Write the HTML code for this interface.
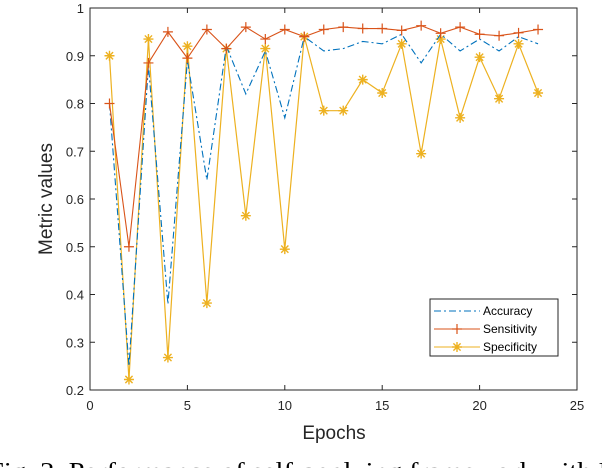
<!DOCTYPE html>
<html><head><meta charset="utf-8"><style>
html,body{margin:0;padding:0;background:#fff;overflow:hidden}
svg{display:block;font-family:"Liberation Sans",sans-serif}
</style></head><body>
<svg id="chart" width="602" height="468" viewBox="0 0 602 468" xmlns="http://www.w3.org/2000/svg">
<g id="grid"></g>
<g id="series"></g>
<g id="axes"></g>
<text x="334" y="439" font-size="19" text-anchor="middle" fill="#262626">Epochs</text>
<text transform="translate(52,199) rotate(-90)" font-size="19" text-anchor="middle" fill="#262626">Metric values</text>
<text x="-12" y="479" font-size="24" font-family="Liberation Serif,serif" textLength="628" lengthAdjust="spacingAndGlyphs" fill="#000">Fig. 2.  Performance of self-applying framework with L</text>
<g id="legend"></g>
</svg>
<script>
const epochs=[1,2,3,4,5,6,7,8,9,10,11,12,13,14,15,16,17,18,19,20,21,22,23];
const accuracy=[0.80,0.25,0.88,0.38,0.89,0.64,0.92,0.82,0.91,0.77,0.94,0.91,0.915,0.93,0.925,0.945,0.885,0.945,0.91,0.935,0.91,0.94,0.925];
const sensitivity=[0.80,0.50,0.885,0.95,0.895,0.955,0.915,0.96,0.935,0.955,0.94,0.955,0.96,0.957,0.957,0.953,0.963,0.947,0.96,0.945,0.942,0.948,0.955];
const specificity=[0.90,0.222,0.935,0.268,0.92,0.382,0.915,0.565,0.915,0.495,0.94,0.785,0.785,0.85,0.822,0.925,0.695,0.935,0.77,0.897,0.81,0.925,0.822];
const xTicks=[0,5,10,15,20,25];
const yTicks=[0.2,0.3,0.4,0.5,0.6,0.7,0.8,0.9,1];
const L=90,R=577,T=8,B=390;
const xS=v=>L+(v-0)/25*(R-L);
const yS=v=>B-(v-0.2)/0.8*(B-T);
const NS='http://www.w3.org/2000/svg';
function mk(tag,attrs,parent){const e=document.createElementNS(NS,tag);for(const k in attrs)e.setAttribute(k,attrs[k]);parent.appendChild(e);return e;}
const axes=document.getElementById('axes'),series=document.getElementById('series'),legend=document.getElementById('legend');
const box=mk('rect',{x:L,y:T,width:R-L,height:B-T,fill:'none',stroke:'#262626','stroke-width':1},axes);


xTicks.forEach(t=>{
  const x=xS(t);
  mk('line',{x1:x,x2:x,y1:B,y2:B-5,stroke:'#262626'},axes);
  mk('line',{x1:x,x2:x,y1:T,y2:T+5,stroke:'#262626'},axes);
  const tx=mk('text',{x:x,y:B+20,'font-size':13,'text-anchor':'middle',fill:'#262626'},axes);
  tx.textContent=t;
  
  
});
yTicks.forEach(t=>{
  const y=yS(t);
  mk('line',{x1:L,x2:L+5,y1:y,y2:y,stroke:'#262626'},axes);
  mk('line',{x1:R,x2:R-5,y1:y,y2:y,stroke:'#262626'},axes);
  const tx=mk('text',{x:L-6,y:y+5,'font-size':13,'text-anchor':'end',fill:'#262626'},axes);
  tx.textContent=(t===1?'1':t.toFixed(1));
  
  
});
function plus(x,y,c,p){mk('path',{d:`M${x-5} ${y}H${x+5}M${x} ${y-5}V${y+5}`,stroke:c,'stroke-width':1.2,fill:'none'},p);}
function star(x,y,c,p){mk('path',{d:`M${x-5} ${y}H${x+5}M${x} ${y-5}V${y+5}M${x-3.6} ${y-3.6}L${x+3.6} ${y+3.6}M${x-3.6} ${y+3.6}L${x+3.6} ${y-3.6}`,stroke:c,'stroke-width':1.4,fill:'none'},p);}
function pts(arr){return arr.map((v,i)=>xS(epochs[i])+','+yS(v)).join(' ');}
const specG=mk('g',{},series);


mk('polyline',{points:pts(specificity),fill:'none',stroke:'#EDB120','stroke-width':1.2},specG);
specificity.forEach((v,i)=>star(xS(epochs[i]),yS(v),'#EDB120',specG));
const accG=mk('g',{},series);


mk('polyline',{points:pts(accuracy),fill:'none',stroke:'#0072BD','stroke-width':1.1,'stroke-dasharray':'7 3 2 3'},accG);
const senG=mk('g',{},series);


mk('polyline',{points:pts(sensitivity),fill:'none',stroke:'#D95319','stroke-width':1.1},senG);
sensitivity.forEach((v,i)=>plus(xS(epochs[i]),yS(v),'#D95319',senG));
mk('rect',{x:430,y:299,width:128,height:57,fill:'#fff',stroke:'#262626','stroke-width':1},legend);
const items=[['Accuracy','#0072BD','acc'],['Sensitivity','#D95319','sen'],['Specificity','#EDB120','spe']];
items.forEach((it,i)=>{
  const y=311+i*18;
  const g=mk('g',{},legend);
  
  
  const ln=mk('line',{x1:434,x2:480,y1:y,y2:y,stroke:it[1],'stroke-width':1.1},g);
  if(it[2]==='acc')ln.setAttribute('stroke-dasharray','7 3 2 3');
  if(it[2]==='sen')plus(457,y,it[1],g);
  if(it[2]==='spe')star(457,y,it[1],g);
  const t=mk('text',{x:483,y:y+4,'font-size':12,fill:'#000'},g);
  t.textContent=it[0];
});
</script>
</body></html>
